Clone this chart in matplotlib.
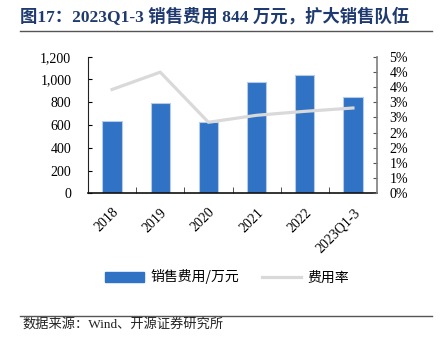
import numpy as np
import matplotlib
matplotlib.use("Agg")
import matplotlib.pyplot as plt
from matplotlib.lines import Line2D
from matplotlib.ticker import FixedLocator, FuncFormatter

plt.rcParams['font.family'] = ['Liberation Serif', 'Noto Sans CJK SC']

# data
years = ['2018', '2019', '2020', '2021', '2022', '2023Q1-3']
sales_exp = [637, 790, 623, 980, 1038, 844]          # 万元
exp_ratio = [3.42, 3.99, 2.34, 2.57, 2.70, 2.81]       # %

title = '图17：2023Q1-3 销售费用 844 万元，扩大销售队伍'
source = '数据来源：Wind、开源证券研究所'
bar_name = '销售费用/万元'
line_name = '费用率'

W, H = 442, 340
fig = plt.figure(figsize=(W / 100, H / 100), dpi=100)

def fx(px):
    return px / W

def fy(py):
    return 1 - py / H

ax = fig.add_axes([fx(88), fy(193.3), fx(377 - 88), (193.3 - 56.7) / H])
x = np.arange(len(years))
ax.bar(x, sales_exp, width=0.4, color='#3072C4', edgecolor='#B4CBEA', linewidth=0.8, zorder=2)
ax.set_xlim(-0.5, len(years) - 0.5)
ax.set_ylim(0, 1200)
ax.set_yticks(np.arange(0, 1201, 200))
ax.yaxis.set_major_formatter(FuncFormatter(lambda v, p: '{:,.0f}'.format(v)))
ax.tick_params(axis='y', direction='in', length=3, pad=12, labelsize=10)
ax.set_xticks(x)
ax.set_xticklabels(years, rotation=45, ha='right', rotation_mode='anchor', fontsize=10)
ax.tick_params(axis='x', length=0, pad=9)
ax.xaxis.set_minor_locator(FixedLocator(np.arange(0.5, len(years) - 1, 1)))
ax.tick_params(axis='x', which='minor', direction='in', length=4, color='#333333')
ax.spines['top'].set_visible(False)
ax.spines['right'].set_visible(False)
ax.spines['left'].set_color('#222222')
ax.spines['bottom'].set_color('#111111')
ax.spines['bottom'].set_linewidth(1.2)

ax2 = ax.twinx()
ax2.plot(x, exp_ratio, color='#D9D9D9', linewidth=2.3, zorder=3)
ax2.set_ylim(0, 4.5)
ax2.set_yticks(np.arange(0, 4.51, 0.5))
ax2.yaxis.set_major_formatter(FuncFormatter(lambda v, p: '{:d}%'.format(int(v + 0.5 + 1e-9))))
ax2.tick_params(axis='y', direction='in', length=3, pad=9, labelsize=10, color='#555555')
ax2.spines['top'].set_visible(False)
ax2.spines['left'].set_visible(False)
ax2.spines['bottom'].set_visible(False)
ax2.spines['right'].set_color('#7F7F7F')
ax2.spines['right'].set_linewidth(1.2)

# legend
handles = [plt.Rectangle((0, 0), 1, 1, color='#3072C4'),
           Line2D([0], [0], color='#D9D9D9', linewidth=2.3)]
fig.legend(handles, [bar_name, line_name], loc='center', bbox_to_anchor=(fx(227), fy(277)),
           ncol=2, frameon=False, fontsize=10, handlelength=2.8, handleheight=0.7,
           columnspacing=1.6, handletextpad=0.5,
           prop={'family': ['Noto Sans CJK SC'], 'size': 10})

# title and source
fig.text(fx(20), fy(17), title, fontsize=12.5, fontweight='bold', color='#1F3A6E',
         va='center', ha='left')
fig.add_artist(Line2D([fx(20), fx(432)], [fy(31), fy(31)], color='#555555', linewidth=1.0))
fig.add_artist(Line2D([fx(20), fx(432)], [fy(316), fy(316)], color='#555555', linewidth=1.0))
fig.text(fx(22), fy(324), source, fontsize=9.5, color='#222222', va='center', ha='left')

fig.savefig('out.png', dpi=100)
